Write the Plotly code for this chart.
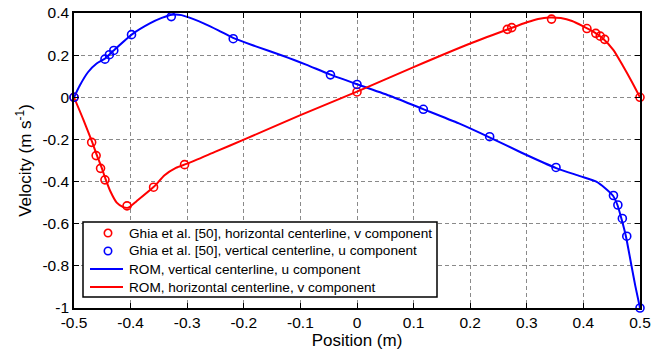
import plotly.graph_objects as go

# Benchmark data (Ghia et al.), lid-driven cavity centerlines
ghia_h_pos = [-0.5, -0.4688, -0.4609, -0.4531, -0.4453, -0.4063, -0.3594, -0.3047,
              0.0, 0.2656, 0.2734, 0.3437, 0.4062, 0.4219, 0.4297, 0.4375, 0.5]
ghia_h_v = [0.0, -0.21388, -0.27669, -0.33714, -0.39188, -0.51550, -0.42665, -0.31966,
            0.02526, 0.32235, 0.33075, 0.37095, 0.32627, 0.30353, 0.29012, 0.27485, 0.0]

ghia_v_pos = [-0.5, -0.4453, -0.4375, -0.4297, -0.3984, -0.3281, -0.2187, -0.0469,
              0.0, 0.1172, 0.2344, 0.3516, 0.4531, 0.4609, 0.4688, 0.4766, 0.5]
ghia_v_u = [0.0, 0.18109, 0.20196, 0.22220, 0.29730, 0.38289, 0.27805, 0.10648,
            0.06080, -0.05702, -0.18719, -0.33304, -0.46604, -0.51117, -0.57492, -0.65928, -1.0]

# Reduced-order model profiles
rom_u_pos = [-0.5, -0.49, -0.475, -0.46, -0.445, -0.43, -0.397, -0.366, -0.345, -0.327,
             -0.31, -0.29, -0.27, -0.245, -0.219, -0.18, -0.13, -0.09, -0.048, 0.0,
             0.06, 0.117, 0.18, 0.234, 0.29, 0.352, 0.394, 0.4235, 0.438, 0.452,
             0.46, 0.467, 0.475, 0.485, 0.4917, 0.5]
rom_u_val = [0.0, 0.055, 0.12, 0.16, 0.184, 0.222, 0.30, 0.351, 0.377, 0.392,
             0.39, 0.372, 0.35, 0.318, 0.282, 0.243, 0.196, 0.155, 0.109, 0.062,
             0.005, -0.056, -0.124, -0.19, -0.262, -0.336, -0.374, -0.401, -0.43, -0.466,
             -0.51, -0.574, -0.658, -0.80, -0.895, -1.0]

rom_v_pos = [-0.5, -0.4835, -0.468, -0.46, -0.451, -0.444, -0.436, -0.4245, -0.413, -0.404,
             -0.389, -0.359, -0.34, -0.32, -0.3, -0.25, -0.2, -0.1, 0.0, 0.1, 0.2,
             0.266, 0.30, 0.32, 0.34, 0.36, 0.38, 0.403, 0.4175, 0.434, 0.4528,
             0.4705, 0.4853, 0.5]
rom_v_val = [0.0, -0.106, -0.212, -0.272, -0.335, -0.39, -0.445, -0.50, -0.521, -0.524,
             -0.492, -0.425, -0.37, -0.335, -0.315, -0.258, -0.201, -0.085, 0.027, 0.143, 0.255,
             0.322, 0.356, 0.372, 0.379, 0.376, 0.362, 0.332, 0.312, 0.28, 0.225,
             0.146, 0.075, 0.0]

x_ticks = [-0.5, -0.4, -0.3, -0.2, -0.1, 0, 0.1, 0.2, 0.3, 0.4, 0.5]
x_labels = ["-0.5", "-0.4", "-0.3", "-0.2", "-0.1", "0", "0.1", "0.2", "0.3", "0.4", "0.5"]
y_ticks = [-1, -0.8, -0.6, -0.4, -0.2, 0, 0.2, 0.4]
y_labels = ["-1", "-0.8", "-0.6", "-0.4", "-0.2", "0", "0.2", "0.4"]

legend_names = [
    "Ghia et al. [50], horizontal centerline, v component",
    "Ghia et al. [50], vertical centerline, u component",
    "ROM, vertical centerline, u component",
    "ROM, horizontal centerline, v component",
]

RED = "#ff0000"
BLUE = "#0000ff"
FONT = "Arial, Liberation Sans, sans-serif"

W, H = 652, 362
M_L, M_R, M_T, M_B = 74, 12, 13, 54
PW, PH = W - M_L - M_R, H - M_T - M_B


def px(xpix):
    """Horizontal pixel position -> paper coordinate."""
    return (xpix - M_L) / PW


def py(ypix):
    """Vertical pixel position (from top) -> paper coordinate."""
    return (H - M_B - ypix) / PH


fig = go.Figure()
fig.add_trace(go.Scatter(
    x=rom_u_pos, y=rom_u_val, mode="lines", name=legend_names[2],
    line=dict(color=BLUE, width=2, shape="spline", smoothing=0.6)))
fig.add_trace(go.Scatter(
    x=rom_v_pos, y=rom_v_val, mode="lines", name=legend_names[3],
    line=dict(color=RED, width=2, shape="spline", smoothing=0.6)))
fig.add_trace(go.Scatter(
    x=ghia_h_pos, y=ghia_h_v, mode="markers", name=legend_names[0],
    marker=dict(symbol="circle-open", size=8, color=RED, line=dict(width=1.6)),
    cliponaxis=False))
fig.add_trace(go.Scatter(
    x=ghia_v_pos, y=ghia_v_u, mode="markers", name=legend_names[1],
    marker=dict(symbol="circle-open", size=8, color=BLUE, line=dict(width=1.6)),
    cliponaxis=False))

axis_common = dict(
    showline=True, linecolor="black", linewidth=1.5, mirror="ticks",
    ticks="inside", ticklen=5, tickwidth=1.2, tickcolor="black",
    showgrid=True, gridcolor="#8a8a8a", gridwidth=1, griddash="4px,3px",
    zeroline=False, automargin=False,
    tickfont=dict(family=FONT, size=15.5, color="black"),
)

fig.update_xaxes(range=[-0.5, 0.5], tickmode="array", tickvals=x_ticks, ticktext=x_labels,
                 title=dict(text="Position (m)", font=dict(family=FONT, size=17, color="black"), standoff=4),
                 **axis_common)
fig.update_yaxes(range=[-1, 0.4], tickmode="array", tickvals=y_ticks, ticktext=y_labels,
                 title=dict(text="Velocity (m s<sup>-1</sup>)", font=dict(family=FONT, size=17, color="black"), standoff=6),
                 **axis_common)

# Boxed legend in the lower-left corner of the axes
shapes = [dict(type="rect", xref="paper", yref="paper",
               x0=px(83), x1=px(437), y0=py(297), y1=py(222),
               line=dict(color="black", width=1.5), fillcolor="white", layer="above")]
annotations = []
legend_rows = [233, 251, 269, 287]
legend_kinds = [("marker", RED), ("marker", BLUE), ("line", BLUE), ("line", RED)]
for name, (kind, color), row in zip(legend_names, legend_kinds, legend_rows):
    if kind == "marker":
        shapes.append(dict(type="circle", xref="paper", yref="paper",
                           xsizemode="pixel", ysizemode="pixel",
                           xanchor=px(108), yanchor=py(row),
                           x0=-3.7, x1=3.7, y0=-3.7, y1=3.7,
                           line=dict(color=color, width=1.6), layer="above"))
    else:
        shapes.append(dict(type="line", xref="paper", yref="paper",
                           x0=px(90), x1=px(123), y0=py(row), y1=py(row),
                           line=dict(color=color, width=2), layer="above"))
    annotations.append(dict(text=name, xref="paper", yref="paper",
                            x=px(127), y=py(row), xanchor="left", yanchor="middle",
                            showarrow=False, font=dict(family=FONT, size=13.6, color="black")))

fig.update_layout(
    width=W, height=H,
    margin=dict(l=M_L, r=M_R, t=M_T, b=M_B),
    paper_bgcolor="white", plot_bgcolor="white",
    showlegend=False,
    shapes=shapes,
    annotations=annotations,
)

fig.write_html("out.html")
